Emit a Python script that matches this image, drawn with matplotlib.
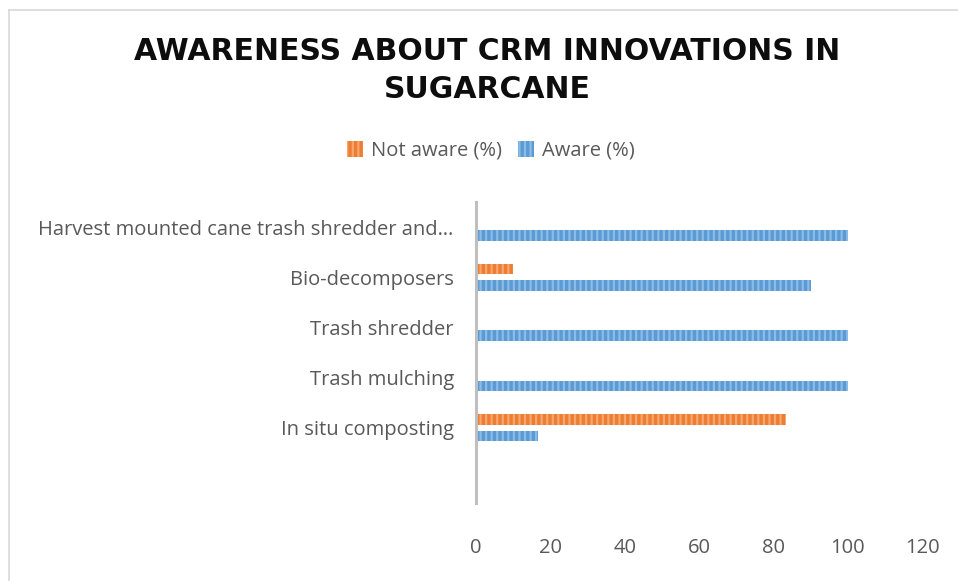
import matplotlib.pyplot as plt
from matplotlib.lines import Line2D

# categories top to bottom (last one is an empty row in the source sheet)
categories = ["Harvest mounted cane trash shredder and…", "Bio-decomposers",
              "Trash shredder", "Trash mulching", "In situ composting", ""]
not_aware = [0, 10, 0, 0, 83.3, 0]
aware = [100, 90, 100, 100, 16.7, 0]

orange = "#ED7D31"
blue = "#5B9BD5"
txt = "#595959"

plt.rcParams["font.family"] = ["Open Sans", "DejaVu Sans"]
plt.rcParams["hatch.linewidth"] = 1.6

fig = plt.figure(figsize=(9.58, 5.81), dpi=100)
ax = fig.add_axes([476 / 958, 1 - 503 / 581, 446 / 958, 301 / 581])

y = list(range(len(categories)))
h = 0.21
ax.barh([i - 0.165 for i in y], not_aware, height=h, color=orange,
        edgecolor="#F6A66E", hatch="|||", linewidth=0, label="Not aware (%)")
ax.barh([i + 0.165 for i in y], aware, height=h, color=blue,
        edgecolor="#8CBBE6", hatch="|||", linewidth=0, label="Aware (%)")

ax.set_ylim(len(categories) - 0.5, -0.5)
ax.set_xlim(0, 120)
ax.set_xticks(range(0, 121, 20))
ax.set_yticks(y)
ax.set_yticklabels(categories)
ax.tick_params(axis="y", length=0, pad=16, labelsize=14.5, labelcolor=txt)
ax.tick_params(axis="x", length=0, pad=25, labelsize=14.5, labelcolor=txt)
for s in ["top", "right", "bottom"]:
    ax.spines[s].set_visible(False)
ax.spines["left"].set_color("#BFBFBF")
ax.spines["left"].set_linewidth(2.2)

fig.text(487 / 958, 1 - 52 / 581, "AWARENESS ABOUT CRM INNOVATIONS IN",
         ha="center", va="center", fontsize=21.5, fontweight="bold",
         family="DejaVu Sans", color="#0d0d0d")
fig.text(487 / 958, 1 - 90 / 581, "SUGARCANE",
         ha="center", va="center", fontsize=21.5, fontweight="bold",
         family="DejaVu Sans", color="#0d0d0d")

handles, labels = ax.get_legend_handles_labels()
fig.legend(handles, labels, loc="center", bbox_to_anchor=(491 / 958, 1 - 151 / 581),
           ncol=2, frameon=False, fontsize=14.5, labelcolor=txt,
           handlelength=0.8, handleheight=0.8, handletextpad=0.4, columnspacing=0.8)

# chart area border (top and left edges visible)
fig.add_artist(Line2D([9 / 958, 1], [1 - 10 / 581, 1 - 10 / 581], color="#D9D9D9", lw=1.2))
fig.add_artist(Line2D([9 / 958, 9 / 958], [0, 1 - 10 / 581], color="#D9D9D9", lw=1.2))

fig.savefig("out.png", dpi=100)
